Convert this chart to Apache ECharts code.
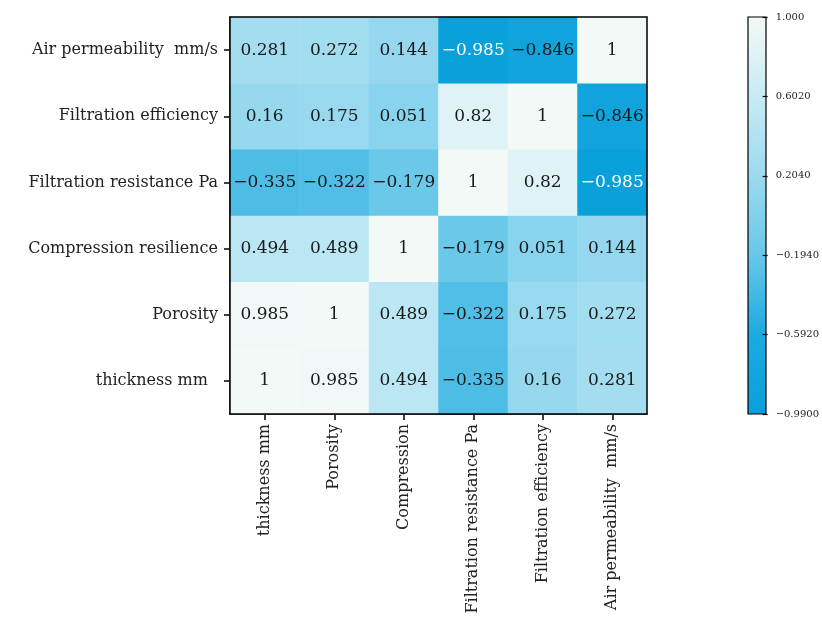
<!DOCTYPE html>
<html>
<head>
<meta charset="utf-8">
<script src="https://cdn.jsdelivr.net/npm/echarts@6/dist/echarts.min.js"></script>
<style>
  html, body { margin: 0; padding: 0; background: #fff; }
  #chart { width: 822px; height: 632px; }
</style>
</head>
<body>
<div id="chart"></div>
<script>
// Correlation matrix of nonwoven filter properties
const xLabels = ['thickness mm', 'Porosity', 'Compression', 'Filtration resistance Pa', 'Filtration efficiency', 'Air permeability  mm/s'];
const yLabels = ['thickness mm  ', 'Porosity', 'Compression resilience', 'Filtration resistance Pa', 'Filtration efficiency', 'Air permeability  mm/s'];

// rows listed bottom to top, matching yLabels
const rowThickness   = [1, 0.985, 0.494, -0.335, 0.16, 0.281];
const rowPorosity    = [0.985, 1, 0.489, -0.322, 0.175, 0.272];
const rowCompression = [0.494, 0.489, 1, -0.179, 0.051, 0.144];
const rowResistance  = [-0.335, -0.322, -0.179, 1, 0.82, -0.985];
const rowEfficiency  = [0.16, 0.175, 0.051, 0.82, 1, -0.846];
const rowPermeab     = [0.281, 0.272, 0.144, -0.985, -0.846, 1];
const rows = [rowThickness, rowPorosity, rowCompression, rowResistance, rowEfficiency, rowPermeab];

// colour bar range and tick labels
const scaleMin = -0.99;
const scaleMax = 1.0;
const scaleStep = 0.398;
const scaleTickLabels = ['-0.9900', '-0.5920', '-0.1940', '0.2040', '0.6020', '1.000'];
const rampColors = ['#0aa0da', '#1caae0', '#68c7e9', '#9cdaef', '#c7ebf4', '#f3f9f7'];

const FONT = '"DejaVu Serif", "Liberation Serif", serif';
const minus = s => s.replace('-', '\u2212');

const cells = [];
rows.forEach((row, yi) => {
  row.forEach((v, xi) => {
    cells.push({
      value: [xi, yi, v],
      label: { color: v < -0.9 ? '#ffffff' : '#1a1a1a' }
    });
  });
});

const chart = echarts.init(document.getElementById('chart'), null, { renderer: 'canvas' });

const gridBox = { left: 230, top: 17, width: 417, height: 397 };
const barBox = { left: 748, top: 17, width: 18, height: 397 };

chart.setOption({
  backgroundColor: '#ffffff',
  animation: false,
  grid: [
    Object.assign({ show: false }, gridBox),
    Object.assign({ show: false }, barBox)
  ],
  xAxis: [
    {
      type: 'category', data: xLabels, gridIndex: 0,
      axisLine: { show: true, lineStyle: { color: '#000', width: 1.5 } },
      axisTick: { show: true, alignWithLabel: true, length: 6, lineStyle: { color: '#000', width: 1.5 } },
      axisLabel: { rotate: 90, fontFamily: FONT, fontSize: 16, color: '#222', margin: 10, interval: 0 },
      splitLine: { show: false }
    },
    {
      type: 'value', gridIndex: 1, show: false, min: 0, max: 1
    }
  ],
  yAxis: [
    {
      type: 'category', data: yLabels, gridIndex: 0,
      axisLine: { show: true, lineStyle: { color: '#000', width: 1.5 } },
      axisTick: { show: true, alignWithLabel: true, length: 6, lineStyle: { color: '#000', width: 1.5 } },
      axisLabel: { fontFamily: FONT, fontSize: 16, color: '#222', margin: 12, interval: 0 },
      splitLine: { show: false }
    },
    {
      type: 'value', gridIndex: 1, position: 'right',
      min: scaleMin, max: scaleMax, interval: scaleStep,
      axisLine: { show: false, onZero: false },
      axisTick: { show: true, length: 5, lineStyle: { color: '#000', width: 1.2 } },
      splitLine: { show: false },
      axisLabel: {
        fontFamily: FONT, fontSize: 10, color: '#222', margin: 13,
        formatter: v => {
          const i = Math.round((v - scaleMin) / scaleStep);
          return minus(scaleTickLabels[i] !== undefined ? scaleTickLabels[i] : String(v));
        }
      }
    }
  ],
  visualMap: {
    show: false,
    type: 'continuous',
    min: scaleMin,
    max: scaleMax,
    dimension: 2,
    seriesIndex: 0,
    inRange: { color: rampColors }
  },
  graphic: [
    {
      type: 'rect',
      shape: { x: barBox.left, y: barBox.top, width: barBox.width, height: barBox.height },
      style: {
        fill: new echarts.graphic.LinearGradient(0, 1, 0, 0,
          rampColors.map((c, i) => ({ offset: i / (rampColors.length - 1), color: c }))),
        stroke: '#000', lineWidth: 1.2
      },
      z: 0
    },
    {
      // frame around the matrix
      type: 'rect',
      shape: { x: gridBox.left, y: gridBox.top, width: gridBox.width, height: gridBox.height },
      style: { fill: null, stroke: '#000', lineWidth: 1.5 },
      silent: true,
      z: 100
    }
  ],
  series: [
    {
      type: 'heatmap',
      xAxisIndex: 0, yAxisIndex: 0,
      data: cells,
      label: {
        show: true,
        fontFamily: FONT,
        fontSize: 17,
        formatter: p => minus(String(p.value[2]))
      },
      itemStyle: { borderWidth: 0 },
      emphasis: { disabled: true }
    }
  ]
});
</script>
</body>
</html>
